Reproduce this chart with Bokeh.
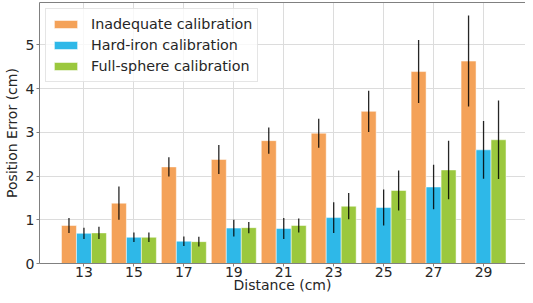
from bokeh.plotting import figure
from bokeh.models import ColumnDataSource, Range1d, LinearAxis, FixedTicker, Legend, LegendItem
from bokeh.transform import dodge
from bokeh.embed import file_html
from bokeh.resources import INLINE

distances = [13, 15, 17, 19, 21, 23, 25, 27, 29]
series_names = ["Inadequate calibration", "Hard-iron calibration", "Full-sphere calibration"]
inadequate = [0.87, 1.38, 2.21, 2.38, 2.81, 2.98, 3.48, 4.39, 4.63]
inadequate_err = [0.17, 0.38, 0.22, 0.33, 0.30, 0.33, 0.47, 0.72, 1.04]
hard_iron = [0.69, 0.60, 0.51, 0.81, 0.80, 1.05, 1.28, 1.75, 2.60]
hard_iron_err = [0.13, 0.11, 0.11, 0.19, 0.24, 0.35, 0.41, 0.51, 0.66]
full_sphere = [0.70, 0.60, 0.50, 0.82, 0.87, 1.31, 1.67, 2.14, 2.83]
full_sphere_err = [0.14, 0.11, 0.11, 0.13, 0.16, 0.30, 0.46, 0.67, 0.90]
colors = ["#F4A259", "#2EB8E8", "#9BC83E"]

FONT = "DejaVu Sans"
TXT = "#262626"

p = figure(width=525, height=295, output_backend="svg", toolbar_location=None,
           x_range=Range1d(11.22, 30.68), y_range=Range1d(0, 5.97),
           min_border_left=34, min_border_right=0, min_border_top=2, min_border_bottom=0)
p.outline_line_color = None

bar_w = 0.6
offsets = [-0.6, 0.0, 0.6]
items = []
for vals, errs, col, name, off in zip([inadequate, hard_iron, full_sphere],
                                      [inadequate_err, hard_iron_err, full_sphere_err],
                                      colors, series_names, offsets):
    src = ColumnDataSource(dict(x=distances, top=vals,
                                lo=[v - e for v, e in zip(vals, errs)],
                                hi=[v + e for v, e in zip(vals, errs)]))
    r = p.vbar(x=dodge("x", off), top="top", width=bar_w, source=src,
               fill_color=col, line_color="white", line_alpha=0.5, line_width=1)
    p.segment(x0=dodge("x", off), y0="lo", x1=dodge("x", off), y1="hi", source=src,
              line_color="black", line_alpha=0.85, line_width=1.3)
    items.append(LegendItem(label=name, renderers=[r]))

legend = Legend(items=items, location="top_left")
legend.label_text_font = FONT
legend.label_text_font_size = "14.3px"
legend.label_text_color = TXT
legend.glyph_width = 29
legend.glyph_height = 10
legend.label_height = 20
legend.spacing = 1
legend.label_standoff = 11
legend.padding = 5
legend.margin = 6
legend.border_line_color = "#cccccc"
legend.border_line_width = 1
legend.background_fill_alpha = 0.8
p.add_layout(legend)

p.xaxis.ticker = FixedTicker(ticks=distances)
p.yaxis.ticker = FixedTicker(ticks=[0, 1, 2, 3, 4, 5])
p.xaxis.axis_label = "Distance (cm)"
p.yaxis.axis_label = "Position Error (cm)"
for ax in (p.xaxis[0], p.yaxis[0]):
    ax.axis_label_text_font = FONT
    ax.axis_label_text_font_size = "14px"
    ax.axis_label_text_font_style = "normal"
    ax.axis_label_text_color = TXT
    ax.major_label_text_font = FONT
    ax.major_label_text_font_size = "14px"
    ax.major_label_text_color = TXT
    ax.axis_line_color = "#808080"
    ax.major_tick_line_color = "#808080"
    ax.major_tick_out = 3
    ax.major_tick_in = 0
    ax.minor_tick_line_color = None
p.yaxis.major_label_standoff = 2
p.yaxis.axis_label_standoff = 3
p.xaxis.major_label_standoff = 0
p.xaxis.axis_label_standoff = -3

top_axis = LinearAxis(ticker=FixedTicker(ticks=[]), major_label_text_font_size="0px",
                      major_tick_out=0, major_tick_in=0, major_label_standoff=0,
                      axis_line_color="#808080", minor_tick_line_color=None)
p.add_layout(top_axis, "above")

p.grid.grid_line_color = "#dcdcdc"
p.grid.grid_line_width = 1

open("out.html", "w").write(file_html(p, INLINE))
